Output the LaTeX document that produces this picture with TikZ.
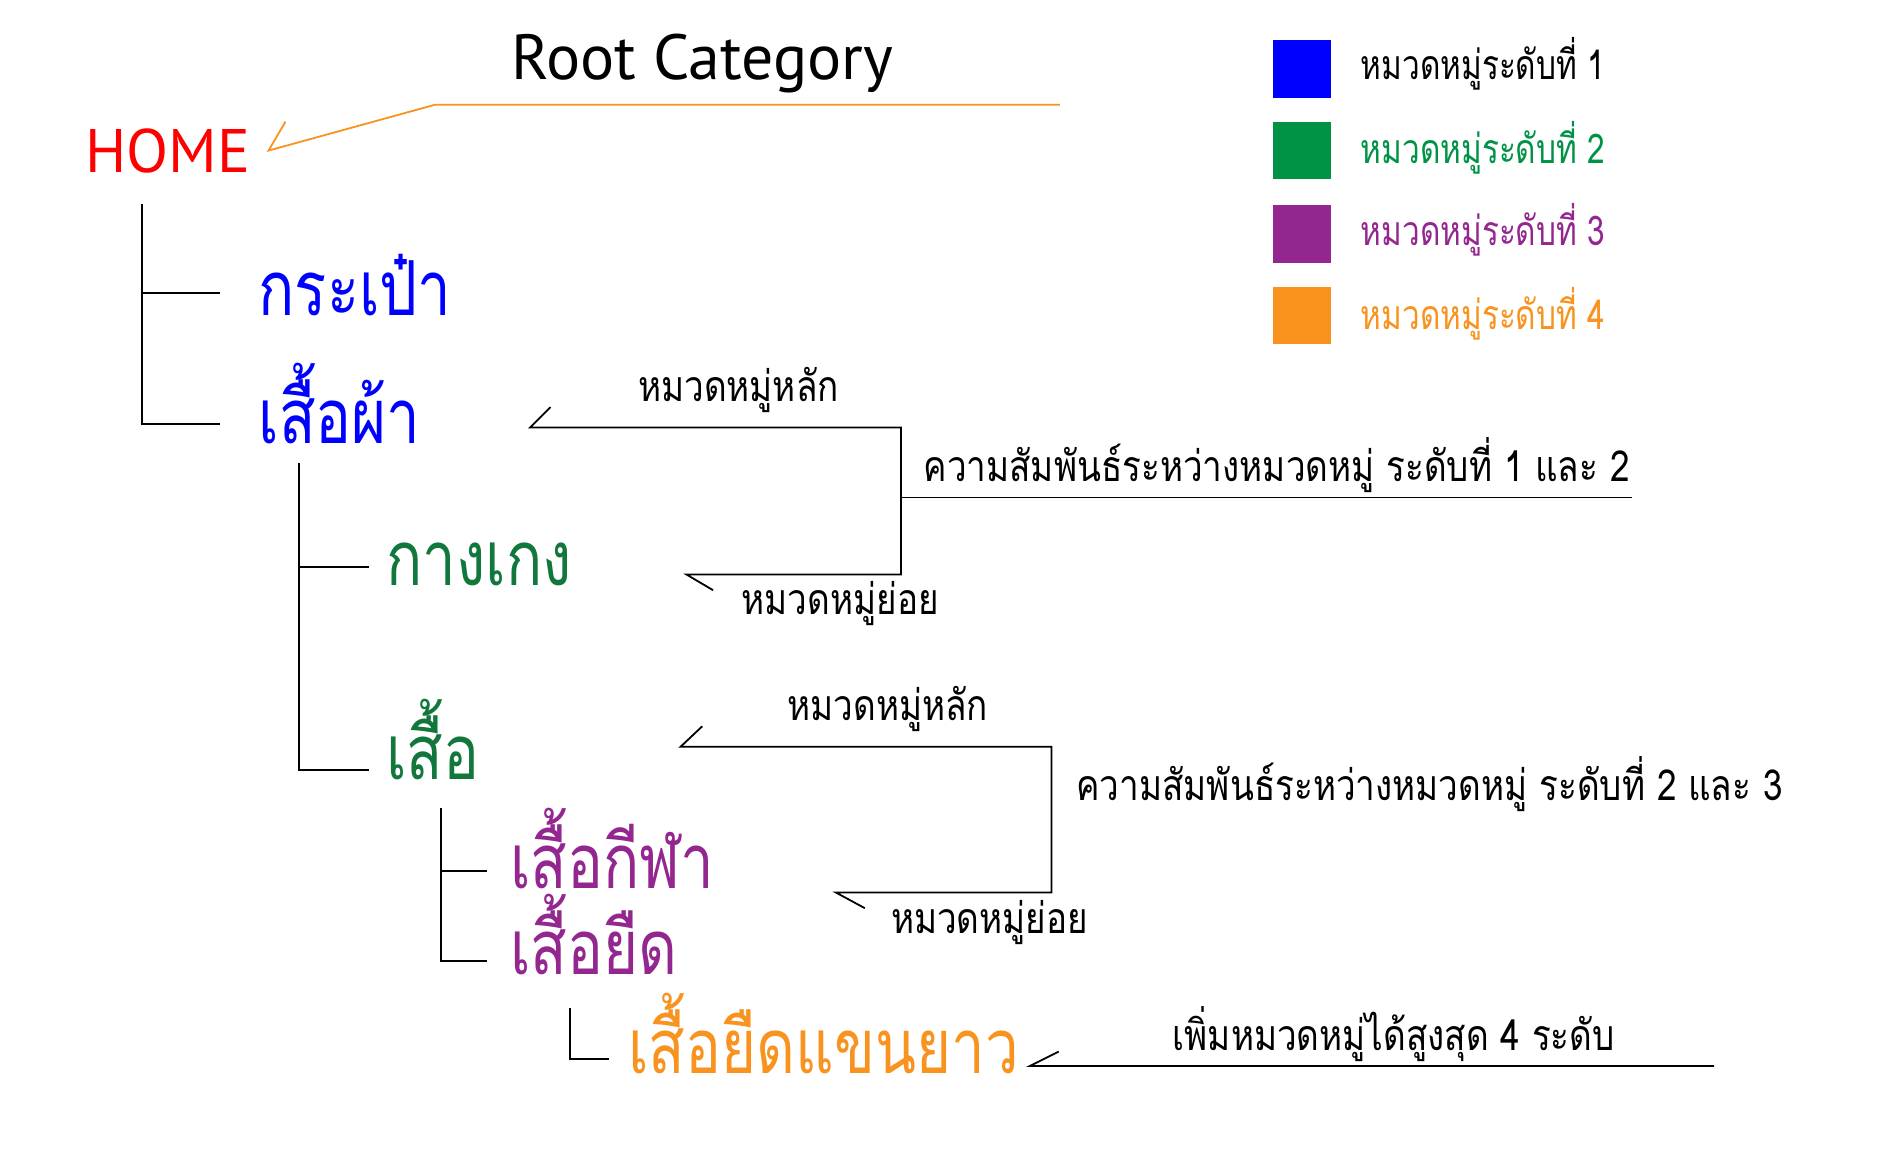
\documentclass[tikz,border=0pt]{standalone}
\usepackage{fontspec}
\setmainfont{PT Sans}
\newfontfamily\thaibig[Script=Thai, FakeStretch=0.79]{Loma}
\newfontfamily\thaismall[Script=Thai, FakeStretch=0.82]{Loma}
\newfontfamily\thaikey[Script=Thai, FakeStretch=0.77]{Loma}
\usepackage{tikz}
\usetikzlibrary{positioning}

\definecolor{homered}{HTML}{FF0000}
\definecolor{lvone}{HTML}{0000FF}
\definecolor{lvtwo}{HTML}{009245}
\definecolor{lvtwotree}{HTML}{12773D}
\definecolor{lvthree}{HTML}{93278F}
\definecolor{lvfour}{HTML}{F7931E}

\tikzset{
 catbig/.style={anchor=base west, inner sep=0, font=\thaibig\fontsize{63}{72}\selectfont},
 catsmall/.style={anchor=base west, inner sep=0, font=\thaismall\fontsize{35.5}{42}\selectfont},
 keytext/.style={anchor=base west, inner sep=0, font=\thaikey\fontsize{34}{40}\selectfont},
 keybox/.style={rectangle, minimum size=48pt, inner sep=0}
}

\begin{document}
\begin{tikzpicture}[x=1pt, y=-1pt, line width=1.5pt]
 \useasboundingbox (0,0) rectangle (1560,960);

 \node [anchor=base, inner sep=0, font=\fontsize{53}{60}\selectfont] (root) at (583,66) {Root Category};
 \node [anchor=base west, inner sep=0, text=homered, font=\fontsize{51}{60}\selectfont] (home) at (70,143) {HOME};

 \coordinate (arrA) at (237,101);
 \coordinate (arrB) at (223,125);
 \coordinate (arrC) at (361,87);
 \coordinate (arrD) at (880,87);
 \draw [draw=lvfour] (arrA) -- (arrB) -- (arrC) -- (arrD);

 \node [catbig, text=lvone] (bag) at (214,262) {กระเป๋า};
 \node [catbig, text=lvone] (cloth) at (214,368) {เสื้อผ้า};
 \node [catbig, text=lvtwotree] (pants) at (320,486) {กางเกง};
 \node [catbig, text=lvtwotree] (shirt) at (320,647) {เสื้อ};
 \node [catbig, text=lvthree] (sport) at (423,738) {เสื้อกีฬา};
 \node [catbig, text=lvthree] (tee) at (423,809) {เสื้อยืด};
 \node [catbig, text=lvfour] (longtee) at (521,891) {เสื้อยืดแขนยาว};

 \coordinate (tA) at (118,169);
 \coordinate (tAa) at (183,243);
 \coordinate (tAb) at (183,352);
 \draw (tA) |- (tAb);
 \draw (tA |- tAa) -- (tAa);

 \coordinate (tB) at (248,384);
 \coordinate (tBa) at (306,471);
 \coordinate (tBb) at (306,639);
 \draw (tB) |- (tBb);
 \draw (tB |- tBa) -- (tBa);

 \coordinate (tC) at (366,671);
 \coordinate (tCa) at (404,723);
 \coordinate (tCb) at (404,798);
 \draw (tC) |- (tCb);
 \draw (tC |- tCa) -- (tCa);

 \coordinate (tD) at (473,837);
 \coordinate (tDa) at (506,879);
 \draw (tD) |- (tDa);

 \node [catsmall] (mainA) at (529,333) {หมวดหมู่หลัก};
 \node [catsmall] (subA) at (615,510) {หมวดหมู่ย่อย};
 \node [catsmall] (relA) at (766,400) {ความสัมพันธ์ระหว่างหมวดหมู่ ระดับที่ 1 และ 2};
 \coordinate (bkA) at (457,338);
 \coordinate (bkAa) at (440,355);
 \coordinate (bkAb) at (748,355);
 \coordinate (bkAc) at (570,477);
 \coordinate (bkAd) at (592,490);
 \coordinate (relAend) at (1355,413);
 \draw (bkA) -- (bkAa) -- (bkAb) |- (bkAc) -- (bkAd);
 \draw (bkAb |- relAend) -- (relAend);

 \node [catsmall] (mainB) at (653,598) {หมวดหมู่หลัก};
 \node [catsmall] (subB) at (739,775) {หมวดหมู่ย่อย};
 \node [catsmall] (relB) at (893,665) {ความสัมพันธ์ระหว่างหมวดหมู่ ระดับที่ 2 และ 3};
 \coordinate (bkB) at (583,603);
 \coordinate (bkBa) at (565,620);
 \coordinate (bkBb) at (873,620);
 \coordinate (bkBc) at (694,741);
 \coordinate (bkBd) at (718,754);
 \draw (bkB) -- (bkBa) -- (bkBb) |- (bkBc) -- (bkBd);

 \node [catsmall] (maxlv) at (973,872) {เพิ่มหมวดหมู่ได้สูงสุด 4 ระดับ};
 \coordinate (bkC) at (879,873);
 \coordinate (bkCa) at (855,885);
 \coordinate (bkCb) at (1423,885);
 \draw (bkC) -- (bkCa) -- (bkCb);

 \node [keybox, fill=lvone] (keyA) at (1081,57) {};
 \node [keybox, fill=lvtwo] (keyB) at (1081,125) {};
 \node [keybox, fill=lvthree] (keyC) at (1081,194) {};
 \node [keybox, fill=lvfour] (keyD) at (1081,262) {};
 \node [keytext] (keyAtext) at (1129,66) {หมวดหมู่ระดับที่ 1};
 \node [keytext, text=lvtwo] (keyBtext) at (1129,135.5) {หมวดหมู่ระดับที่ 2};
 \node [keytext, text=lvthree] (keyCtext) at (1129,204) {หมวดหมู่ระดับที่ 3};
 \node [keytext, text=lvfour] (keyDtext) at (1129,273.5) {หมวดหมู่ระดับที่ 4};
\end{tikzpicture}
\end{document}
